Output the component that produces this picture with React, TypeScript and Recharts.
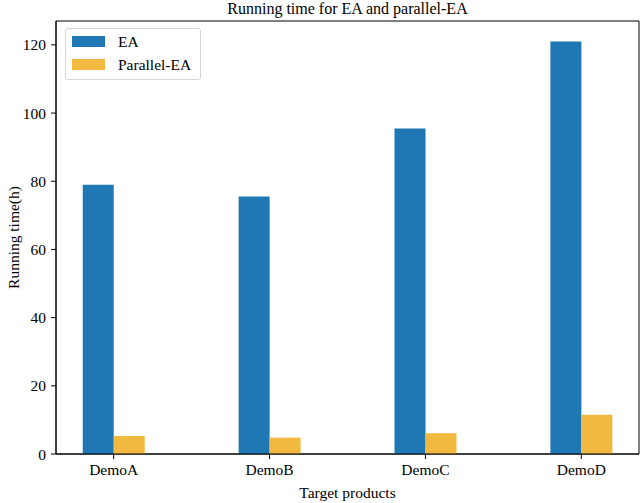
import React from 'react';
import { BarChart, Bar, XAxis, YAxis, Legend, ReferenceArea } from 'recharts';

const categories = ['DemoA', 'DemoB', 'DemoC', 'DemoD'];
const eaValues = [79, 75.5, 95.5, 121];
const parallelValues = [5.3, 4.8, 6.1, 11.5];
const yTicks = [0, 20, 40, 60, 80, 100, 120];

const data = categories.map((name, i) => ({
  x: i,
  name,
  ea: eaValues[i],
  parallel: parallelValues[i],
}));

const FONT = '"Liberation Serif", "Times New Roman", serif';

const YLabel = ({ viewBox }: any) => {
  const cx = 13;
  const cy = viewBox ? viewBox.y + viewBox.height / 2 : 237;
  return (
    <text
      x={cx}
      y={cy}
      transform={`rotate(-90, ${cx}, ${cy})`}
      textAnchor="middle"
      dominantBaseline="central"
      fontFamily={FONT}
      fontSize={15.5}
      fill="#000"
    >
      Running time(h)
    </text>
  );
};

const XLabel = ({ viewBox }: any) => {
  const cx = viewBox ? viewBox.x + viewBox.width / 2 : 347;
  return (
    <text
      x={cx}
      y={492}
      textAnchor="middle"
      dominantBaseline="central"
      fontFamily={FONT}
      fontSize={15.5}
      fill="#000"
    >
      Target products
    </text>
  );
};

const LegendBox = ({ payload }: any) => (
  <div
    style={{
      position: 'relative',
      width: 136,
      height: 52,
      boxSizing: 'border-box',
      border: '1px solid #d6d6d6',
      borderRadius: 3,
      background: 'rgba(255,255,255,0.8)',
      fontFamily: FONT,
      fontSize: 15.5,
      color: '#000',
    }}
  >
    {(payload || []).map((entry: any, i: number) => (
      <React.Fragment key={i}>
        <div
          style={{
            position: 'absolute',
            left: 6,
            top: 7 + i * 23,
            width: 33,
            height: 11,
            background: entry.color,
          }}
        />
        <div
          style={{
            position: 'absolute',
            left: 52,
            top: 3 + i * 23,
            lineHeight: '20px',
            whiteSpace: 'nowrap',
          }}
        >
          {entry.value}
        </div>
      </React.Fragment>
    ))}
  </div>
);

export default function App() {
  return (
    <div style={{ position: 'absolute', left: 0, top: 0, width: 640, height: 503, background: '#fff' }}>
      <div
        style={{
          position: 'absolute',
          left: 56,
          width: 583,
          top: 0,
          textAlign: 'center',
          fontFamily: FONT,
          fontSize: 16,
          lineHeight: '18px',
          color: '#000',
        }}
      >
        Running time for EA and parallel-EA
      </div>
      <BarChart
        width={640}
        height={503}
        data={data}
        margin={{ top: 21, right: 1, bottom: 0, left: 0 }}
        barGap={0}
      >
        <XAxis
          dataKey="x"
          type="number"
          domain={[-0.37, 3.37]}
          ticks={[0, 1, 2, 3]}
          tickFormatter={(v: number) => categories[v] ?? ''}
          allowDataOverflow
          height={49}
          tickSize={5}
          tickMargin={5}
          stroke="#000"
          tick={{ fill: '#000', fontFamily: FONT, fontSize: 15.5 }}
          label={<XLabel />}
        />
        <YAxis
          type="number"
          domain={[0, 127]}
          ticks={yTicks}
          allowDataOverflow
          width={56}
          tickSize={5}
          tickMargin={5}
          stroke="#000"
          tick={{ fill: '#000', fontFamily: FONT, fontSize: 15.5 }}
          label={<YLabel />}
        />
        <Legend
          layout="horizontal"
          verticalAlign="middle"
          align="center"
          content={<LegendBox />}
          wrapperStyle={{ position: 'absolute', left: 65, top: 28, width: 136, height: 52 }}
        />
        <Bar dataKey="ea" name="EA" fill="#1f77b4" barSize={31} isAnimationActive={false} />
        <Bar dataKey="parallel" name="Parallel-EA" fill="#f2b941" barSize={31} isAnimationActive={false} />
        <ReferenceArea
          x1={-0.37}
          x2={3.37}
          y1={0}
          y2={127}
          fill="none"
          fillOpacity={0}
          stroke="#000"
          strokeWidth={1}
          ifOverflow="visible"
        />
      </BarChart>
    </div>
  );
}
